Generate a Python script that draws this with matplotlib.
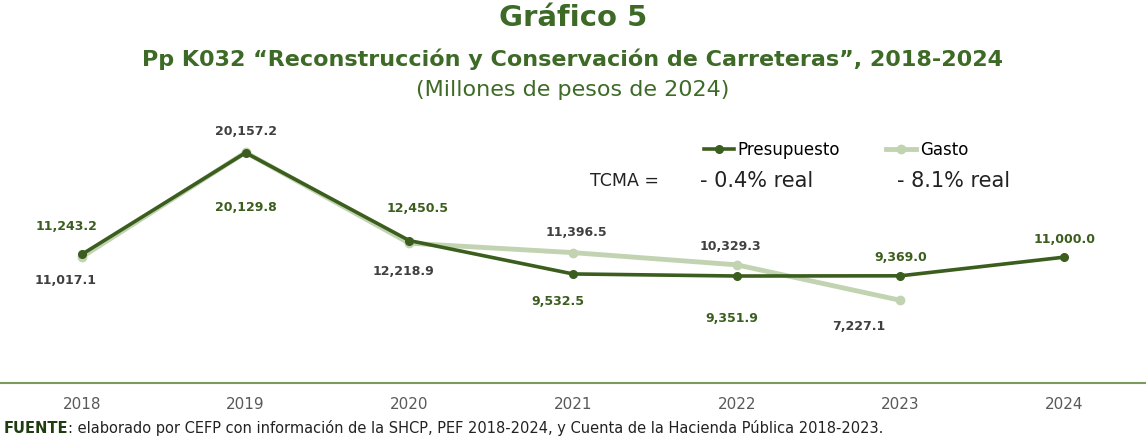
import matplotlib.pyplot as plt

years = ['2018', '2019', '2020', '2021', '2022', '2023', '2024']
presupuesto = [11243.2, 20129.8, 12450.5, 9532.5, 9351.9, 9369.0, 11000.0]
gasto = [11017.1, 20157.2, 12218.9, 11396.5, 10329.3, 7227.1]

dark = '#3b5e1e'
light = '#c2d3b2'
gray = '#404040'

plt.rcParams['font.family'] = ['DejaVu Sans']

fig = plt.figure(figsize=(11.46, 4.4), dpi=100)
ax = fig.add_axes([0, 1 - 383 / 440, 1, (383 - 97) / 440])

x = list(range(len(years)))
ax.plot(x[:len(gasto)], gasto, color=light, lw=3.5, marker='o', ms=6, label='Gasto', zorder=2)
ax.plot(x, presupuesto, color=dark, lw=2.6, marker='o', ms=5.5, label='Presupuesto', zorder=3)

# offsets in pixels for each label
off_p = [(-15, 28), (0, -55), (8, 32), (-15, -28), (-5, -42), (0, 18), (0, 18)]
off_g = [(-16, -24), (0, 21), (-6, -28), (3, 20), (-6, 18), (-42, -26)]
for i, v in enumerate(presupuesto):
    ax.annotate(f'{v:,.1f}', (x[i], v), xytext=off_p[i], textcoords='offset pixels',
                ha='center', va='center', fontsize=9, fontweight='bold', color=dark)
for i, v in enumerate(gasto):
    ax.annotate(f'{v:,.1f}', (x[i], v), xytext=off_g[i], textcoords='offset pixels',
                ha='center', va='center', fontsize=9, fontweight='bold', color=gray)

ax.set_xlim(-0.5, 6.5)
ax.set_ylim(0, 25000)
ax.set_yticks([])
ax.set_xticks(x)
ax.set_xticklabels(years, fontsize=11, color='#595959')
ax.tick_params(axis='x', length=0, pad=10)
for s in ['top', 'left', 'right']:
    ax.spines[s].set_visible(False)
ax.spines['bottom'].set_color('#7b9a5e')
ax.spines['bottom'].set_linewidth(1.5)

h, l = ax.get_legend_handles_labels()
ax.legend(h[::-1], l[::-1], loc='center', bbox_to_anchor=(836 / 1146, 1 - (150 - 97) / 286),
          ncol=2, frameon=False, fontsize=12, handlelength=1.8, handletextpad=0.2,
          columnspacing=2.8)

fig.text(590 / 1146, 1 - 181 / 440, 'TCMA =', fontsize=12.5, color='#222222', va='center')
fig.text(700 / 1146, 1 - 181 / 440, '- 0.4% real', fontsize=15, color='#222222', va='center')
fig.text(897 / 1146, 1 - 181 / 440, '- 8.1% real', fontsize=15, color='#222222', va='center')

fig.text(0.5, 1 - 18 / 440, 'Gráfico 5', ha='center', va='center', fontsize=21,
         fontweight='bold', color='#3d6b27')
fig.text(0.5, 1 - 59 / 440, 'Pp K032 “Reconstrucción y Conservación de Carreteras”, 2018-2024',
         ha='center', va='center', fontsize=16, fontweight='bold', color='#3d6b27')
fig.text(0.5, 1 - 90 / 440, '(Millones de pesos de 2024)', ha='center', va='center',
         fontsize=16, color='#3d6b27')

r = fig.canvas.get_renderer()
t = fig.text(4 / 1146, 1 - 428 / 440, 'FUENTE', fontsize=10.5, fontweight='bold',
             va='center', color='#1f3d10')
w = t.get_window_extent(r).width
fig.text((4 + w) / 1146, 1 - 428 / 440,
         ': elaborado por CEFP con información de la SHCP, PEF 2018-2024, y Cuenta de la Hacienda Pública 2018-2023.',
         fontsize=10.5, va='center', color='#222222')

fig.savefig('out.png', dpi=100)
